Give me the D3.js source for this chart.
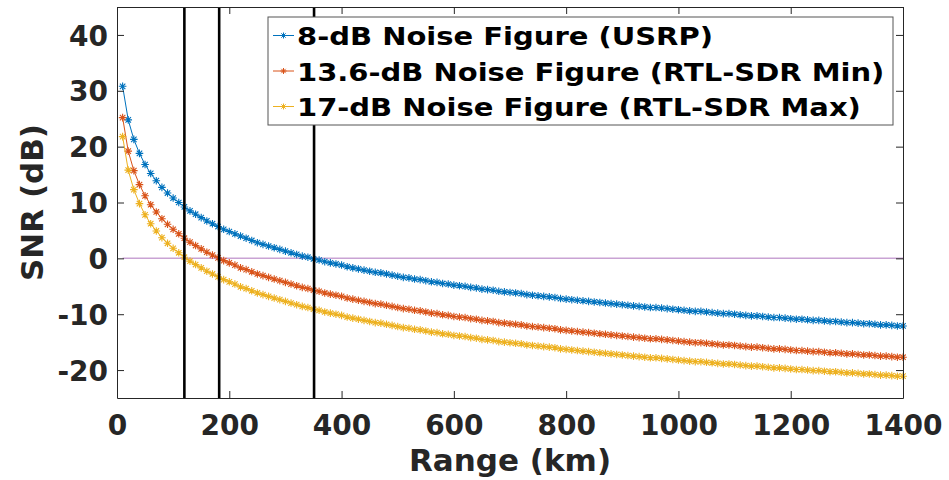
<!DOCTYPE html>
<html>
<head>
<meta charset="utf-8">
<script src="https://cdn.jsdelivr.net/npm/d3@7"></script>
<style>
  html, body { margin: 0; padding: 0; background: #fff; }
  #chart { width: 949px; height: 480px; }
  .axis text { font-family: "DejaVu Sans", sans-serif; font-weight: bold; font-size: 28px; fill: #262626; }
  .axis path, .axis line { stroke: #262626; stroke-width: 1; }
</style>
</head>
<body>
<div id="chart"></div>
<script>
// range samples (km)
const ranges = [10,20,30,40,50,60,70,80,90,100,110,120,130,140,150,160,170,180,190,200,
  210,220,230,240,250,260,270,280,290,300,310,320,330,340,350,360,370,380,390,400,
  410,420,430,440,450,460,470,480,490,500,510,520,530,540,550,560,570,580,590,600,
  610,620,630,640,650,660,670,680,690,700,710,720,730,740,750,760,770,780,790,800,
  810,820,830,840,850,860,870,880,890,900,910,920,930,940,950,960,970,980,990,1000,
  1010,1020,1030,1040,1050,1060,1070,1080,1090,1100,1110,1120,1130,1140,1150,1160,1170,1180,1190,1200,
  1210,1220,1230,1240,1250,1260,1270,1280,1290,1300,1310,1320,1330,1340,1350,1360,1370,1380,1390,1400];

const snrUsrp = [30.8,24.8,21.3,18.8,16.8,15.2,13.9,12.7,11.7,10.8,
  10.0,9.2,8.5,7.9,7.3,6.7,6.2,5.7,5.2,4.8,
  4.4,4.0,3.6,3.2,2.8,2.5,2.2,1.9,1.6,1.3,
  1.0,0.7,0.4,0.2,-0.1,-0.3,-0.6,-0.8,-1.0,-1.2,
  -1.5,-1.7,-1.9,-2.1,-2.3,-2.5,-2.6,-2.8,-3.0,-3.2,
  -3.4,-3.5,-3.7,-3.8,-4.0,-4.2,-4.3,-4.5,-4.6,-4.8,
  -4.9,-5.0,-5.2,-5.3,-5.5,-5.6,-5.7,-5.9,-6.0,-6.1,
  -6.2,-6.3,-6.5,-6.6,-6.7,-6.8,-6.9,-7.0,-7.2,-7.3,
  -7.4,-7.5,-7.6,-7.7,-7.8,-7.9,-8.0,-8.1,-8.2,-8.3,
  -8.4,-8.5,-8.6,-8.7,-8.8,-8.8,-8.9,-9.0,-9.1,-9.2,
  -9.3,-9.4,-9.5,-9.5,-9.6,-9.7,-9.8,-9.9,-9.9,-10.0,
  -10.1,-10.2,-10.3,-10.3,-10.4,-10.5,-10.6,-10.6,-10.7,-10.8,
  -10.9,-10.9,-11.0,-11.1,-11.1,-11.2,-11.3,-11.3,-11.4,-11.5,
  -11.5,-11.6,-11.7,-11.7,-11.8,-11.9,-11.9,-12.0,-12.1,-12.1];

const snrRtlMin = [25.2,19.2,15.7,13.2,11.2,9.6,8.3,7.1,6.1,5.2,
  4.4,3.6,2.9,2.3,1.7,1.1,0.6,0.1,-0.4,-0.8,
  -1.2,-1.7,-2.0,-2.4,-2.8,-3.1,-3.4,-3.7,-4.0,-4.3,
  -4.6,-4.9,-5.2,-5.4,-5.7,-5.9,-6.2,-6.4,-6.6,-6.8,
  -7.1,-7.3,-7.5,-7.7,-7.9,-8.1,-8.2,-8.4,-8.6,-8.8,
  -9.0,-9.1,-9.3,-9.4,-9.6,-9.8,-9.9,-10.1,-10.2,-10.4,
  -10.5,-10.6,-10.8,-10.9,-11.1,-11.2,-11.3,-11.5,-11.6,-11.7,
  -11.8,-11.9,-12.1,-12.2,-12.3,-12.4,-12.5,-12.6,-12.8,-12.9,
  -13.0,-13.1,-13.2,-13.3,-13.4,-13.5,-13.6,-13.7,-13.8,-13.9,
  -14.0,-14.1,-14.2,-14.3,-14.4,-14.4,-14.5,-14.6,-14.7,-14.8,
  -14.9,-15.0,-15.1,-15.1,-15.2,-15.3,-15.4,-15.5,-15.5,-15.6,
  -15.7,-15.8,-15.9,-15.9,-16.0,-16.1,-16.2,-16.2,-16.3,-16.4,
  -16.5,-16.5,-16.6,-16.7,-16.7,-16.8,-16.9,-16.9,-17.0,-17.1,
  -17.1,-17.2,-17.3,-17.3,-17.4,-17.5,-17.5,-17.6,-17.7,-17.7];

const snrRtlMax = [21.8,15.8,12.3,9.8,7.8,6.2,4.9,3.7,2.7,1.8,
  1.0,0.2,-0.5,-1.1,-1.7,-2.3,-2.8,-3.3,-3.8,-4.2,
  -4.6,-5.1,-5.4,-5.8,-6.2,-6.5,-6.8,-7.1,-7.4,-7.7,
  -8.0,-8.3,-8.6,-8.8,-9.1,-9.3,-9.6,-9.8,-10.0,-10.2,
  -10.5,-10.7,-10.9,-11.1,-11.3,-11.5,-11.6,-11.8,-12.0,-12.2,
  -12.4,-12.5,-12.7,-12.8,-13.0,-13.2,-13.3,-13.5,-13.6,-13.8,
  -13.9,-14.0,-14.2,-14.3,-14.5,-14.6,-14.7,-14.9,-15.0,-15.1,
  -15.2,-15.3,-15.5,-15.6,-15.7,-15.8,-15.9,-16.0,-16.2,-16.3,
  -16.4,-16.5,-16.6,-16.7,-16.8,-16.9,-17.0,-17.1,-17.2,-17.3,
  -17.4,-17.5,-17.6,-17.7,-17.8,-17.8,-17.9,-18.0,-18.1,-18.2,
  -18.3,-18.4,-18.5,-18.5,-18.6,-18.7,-18.8,-18.9,-18.9,-19.0,
  -19.1,-19.2,-19.3,-19.3,-19.4,-19.5,-19.6,-19.6,-19.7,-19.8,
  -19.9,-19.9,-20.0,-20.1,-20.1,-20.2,-20.3,-20.3,-20.4,-20.5,
  -20.5,-20.6,-20.7,-20.7,-20.8,-20.9,-20.9,-21.0,-21.1,-21.1];

const seriesNames = [
  "8-dB Noise Figure (USRP)",
  "13.6-dB Noise Figure (RTL-SDR Min)",
  "17-dB Noise Figure (RTL-SDR Max)"
];
const seriesColors = ["#0072BD", "#D95319", "#EDB120"];

// zero-SNR crossing ranges (km) marked with vertical lines
const crossings = [120, 182, 351];
const zeroLineRange = [10, 1400];

const xTicks = [0, 200, 400, 600, 800, 1000, 1200, 1400];
const yTicks = [-20, -10, 0, 10, 20, 30, 40];
const xDomain = [0, 1400];
const yDomain = [-25, 45];

function renderChart() {
  const container = d3.select("#chart");
  const width = 949, height = 480;
  const margin = { top: 7, right: 46, bottom: 82, left: 117 };
  const innerW = width - margin.left - margin.right;
  const innerH = height - margin.top - margin.bottom;
  const plain = d => String(d);  // MATLAB style: no separators, ascii minus

  const svg = container.append("svg").attr("width", width).attr("height", height);
  const g = svg.append("g").attr("transform", `translate(${margin.left},${margin.top})`);

  const x = d3.scaleLinear().domain(xDomain).range([0, innerW]);
  const y = d3.scaleLinear().domain(yDomain).range([innerH, 0]);

  const series = [snrUsrp, snrRtlMin, snrRtlMax].map((vals, i) => ({
    name: seriesNames[i],
    color: seriesColors[i],
    points: ranges.map((r, j) => ({ r, v: vals[j] }))
  }));

  // zero line
  g.append("line")
    .attr("x1", x(zeroLineRange[0])).attr("x2", x(zeroLineRange[1]))
    .attr("y1", y(0)).attr("y2", y(0))
    .attr("stroke", "#c9a3d4").attr("stroke-width", 1.5);

  const line = d3.line().x(d => x(d.r)).y(d => y(d.v));
  const star = s => {
    const d = s * 0.72;
    return `M${-s},0H${s}M0,${-s}V${s}M${-d},${-d}L${d},${d}M${-d},${d}L${d},${-d}`;
  };

  series.forEach(s => {
    g.append("path")
      .datum(s.points)
      .attr("fill", "none")
      .attr("stroke", s.color)
      .attr("stroke-width", 1)
      .attr("d", line);

    g.append("g").selectAll("path")
      .data(s.points)
      .enter()
      .append("path")
      .attr("transform", d => `translate(${x(d.r)},${y(d.v)})`)
      .attr("d", star(3.8))
      .attr("stroke", s.color)
      .attr("stroke-width", 1.1)
      .attr("fill", "none");
  });

  // vertical markers
  g.selectAll(".vline")
    .data(crossings)
    .enter()
    .append("line")
    .attr("class", "vline")
    .attr("x1", d => x(d)).attr("x2", d => x(d))
    .attr("y1", 0).attr("y2", innerH)
    .attr("stroke", "#000").attr("stroke-width", 2.6);

  // axes (box with inward ticks)
  g.append("g").attr("class", "axis")
    .attr("transform", `translate(0,${innerH})`)
    .call(d3.axisBottom(x).tickValues(xTicks).tickFormat(plain)
      .tickSizeInner(-7).tickSizeOuter(0).tickPadding(17));
  g.append("g").attr("class", "axis")
    .call(d3.axisTop(x).tickValues(xTicks).tickSizeInner(-7).tickSizeOuter(0).tickFormat(""));
  g.append("g").attr("class", "axis")
    .call(d3.axisLeft(y).tickValues(yTicks).tickFormat(plain)
      .tickSizeInner(-7).tickSizeOuter(0).tickPadding(9))
    .selectAll("text").attr("dy", "0.36em");
  g.append("g").attr("class", "axis")
    .attr("transform", `translate(${innerW},0)`)
    .call(d3.axisRight(y).tickValues(yTicks).tickSizeInner(-7).tickSizeOuter(0).tickFormat(""));

  // axis labels
  svg.append("text")
    .attr("x", margin.left + innerW / 2).attr("y", 471)
    .attr("text-anchor", "middle")
    .style("font-family", "DejaVu Sans, sans-serif").style("font-weight", "bold")
    .style("font-size", "31px").style("fill", "#262626")
    .text("Range (km)");
  svg.append("text")
    .attr("transform", `translate(43,${margin.top + innerH / 2}) rotate(-90)`)
    .attr("text-anchor", "middle")
    .style("font-family", "DejaVu Sans, sans-serif").style("font-weight", "bold")
    .style("font-size", "31px").style("fill", "#262626")
    .text("SNR (dB)");

  // legend
  const legend = svg.append("g").attr("transform", "translate(268,17)");
  legend.append("rect")
    .attr("width", 625).attr("height", 108)
    .attr("fill", "#fff").attr("stroke", "#555").attr("stroke-width", 1);
  series.forEach((s, i) => {
    const cy = 18.5 + i * 35.5;
    const row = legend.append("g");
    row.append("line")
      .attr("x1", 5).attr("x2", 26).attr("y1", cy).attr("y2", cy)
      .attr("stroke", s.color).attr("stroke-width", 1);
    row.append("path")
      .attr("transform", `translate(15.5,${cy})`)
      .attr("d", star(3)).attr("stroke", s.color).attr("fill", "none");
    row.append("text")
      .attr("transform", `translate(29,${cy + 9.5}) scale(1.16,1)`)
      .style("font-family", "DejaVu Sans, sans-serif").style("font-weight", "bold")
      .style("font-size", "25px").style("fill", "#000")
      .text(s.name);
  });
}

renderChart();
</script>
</body>
</html>
